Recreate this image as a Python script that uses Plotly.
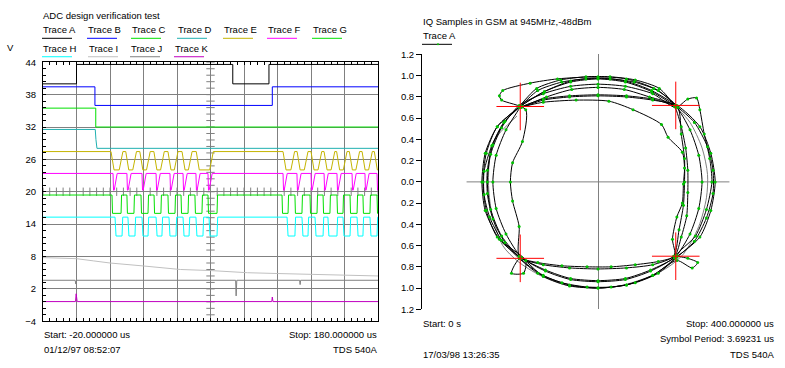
import numpy as np
import plotly.graph_objects as go

W, H = 785, 368
FONT = "Liberation Sans, Arial, sans-serif"
FS = 9.5

# ---------------- left panel: ADC traces (time in us, volts) ----------------
t_start, t_stop = -20.0, 180.0

a_t = [-20.0, 0.0, 93.3, 114.9, 180.0]
a_v = [40.0, 43.6, 40.0, 43.6, 43.6]
b_t = [-20.0, 11.0, 116.9, 180.0]
b_v = [39.45, 36.0, 39.45, 39.45]
c_t = [-20.0, 11.5, 180.0]
c_v = [35.5, 32.0, 32.0]
d_t = [-20.0, 11.2, 11.6, 12.2, 180.0]
d_v = [31.55, 31.55, 29.7, 28.05, 28.05]

e_levels = (27.45, 24.05)
e_lows = [(20.6, 25.5), (29.4, 33.6), (37.8, 41.8), (46.2, 50.2), (54.6, 58.4),
          (63.0, 66.8), (71.5, 79.5),
          (123.3, 128.0), (131.7, 136.0), (140.0, 144.2), (147.8, 152.0),
          (155.3, 159.3), (162.9, 166.8), (170.5, 174.4), (177.8, 181.0)]
f_levels = (23.4, 20.3)
f_lows = [(21.8, 22.5), (30.1, 30.8), (39.1, 39.8), (47.5, 48.2), (55.8, 56.5),
          (63.6, 64.3), (71.3, 72.0), (78.5, 79.2),
          (123.3, 124.0), (131.6, 132.3), (140.0, 140.7), (147.8, 148.5),
          (155.5, 156.2), (164.5, 165.2), (172.2, 172.9), (179.4, 181.0)]
g_levels = (19.4, 16.0)
g_lows = [(21.2, 26.6), (30.1, 34.3), (38.5, 42.7), (46.3, 50.4), (54.6, 58.8),
          (62.4, 66.6), (70.7, 74.9), (78.5, 83.9),
          (122.7, 126.3), (130.4, 134.6), (139.4, 143.6), (147.2, 151.3),
          (155.5, 159.1), (163.3, 167.5), (171.0, 175.2), (179.4, 181.0)]
h_levels = (15.3, 11.8)
h_lows = [(23.0, 27.2), (30.7, 34.9), (39.1, 42.7), (47.5, 51.0), (55.2, 59.4),
          (63.6, 67.2), (71.3, 75.5), (79.1, 83.9),
          (125.7, 130.4), (134.6, 138.2), (142.4, 147.2), (150.1, 155.5),
          (159.1, 163.3), (167.5, 171.0), (175.2, 179.4)]

i_t = [-20.0, 0.0, 10.0, 20.0, 40.0, 62.0, 80.0, 102.0, 120.0, 141.0, 160.0, 180.0]
i_v = [7.8, 7.6, 7.2, 6.8, 6.25, 5.6, 5.4, 5.0, 4.85, 4.7, 4.55, 4.4]
j_t = [-20.0, -0.8, -0.4, 0.1, 95.0, 95.3, 95.7, 133.2, 133.5, 133.8, 180.0]
j_v = [3.6, 3.6, 2.9, 3.6, 3.6, 0.7, 3.6, 3.6, 2.8, 3.6, 3.6]
k_t = [-20.0, -0.6, -0.2, 0.4, 116.6, 116.9, 117.3, 180.0]
k_v = [-0.35, -0.35, 1.1, -0.35, -0.35, 0.5, -0.35, -0.35]

trace_names = ["Trace A", "Trace B", "Trace C", "Trace D", "Trace E", "Trace F",
               "Trace G", "Trace H", "Trace I", "Trace J", "Trace K"]
trace_colors = ["#000000", "#0000ff", "#00e000", "#20b0b0", "#c4b400", "#ff00ff",
                "#00e000", "#00ffff", "#c0c0c0", "#808080", "#c000c0"]

y_ticks = [-4, 2, 8, 14, 20, 26, 32, 38, 44]

# ---------------- right panel: IQ trajectory ----------------
iq_i = [0.71,
        0.49, 0.25, 0, -0.25, -0.49, -0.71,
        -0.92, -1.02, -1.05, -1.02, -0.92, -0.71,
        -0.48, -0.25, 0, 0.25, 0.48, 0.71,
        0.93, 1.03, 1.07, 1.03, 0.93, 0.72,
        0.5, 0.26, 0, -0.26, -0.5, -0.70,
        -0.47, -0.24, 0, 0.24, 0.47, 0.70,
        0.84, 0.92, 0.95, 0.92, 0.84, 0.70,
        0.50, 0.26, 0, -0.26, -0.50, -0.72,
        -0.72, -0.78, -0.80, -0.78, -0.69, -0.66,
        -0.88, -0.90, -0.87, -0.62, -0.37, 0, 0.26, 0.51, 0.73,
        0.76, 0.79, 0.79, 0.78, 0.74, 0.69,
        0.50, 0.26, 0, -0.26, -0.50, -0.70,
        -0.88, -0.98, -1.01, -0.98, -0.88, -0.72,
        -0.5, -0.25, 0, 0.25, 0.5, 0.71,
        0.82, 0.90, 0.93,
        0.97, 1.02, 1.04, 0.99, 0.89, 0.72,
        0.82, 0.91, 0.86, 0.72,
        0.50, 0.26, 0, -0.26, -0.50, -0.71,
        -0.79, -0.68, -0.66,
        -0.90, -1.03, -1.06, -1.03, -0.92, -0.71,
        -0.49, -0.25, 0, 0.25, 0.49, 0.71,
        0.5, 0.26, 0, -0.26, -0.5, -0.69,
        -0.5, -0.2, 0.1, 0.32, 0.58, 0.64, 0.77, 0.79, 0.78, 0.77, 0.72, 0.68, 0.70,
        0.48, 0.25, 0, -0.25, -0.48, -0.70,
        -0.84, -0.93, -0.96, -0.93, -0.84, -0.71,
        -0.86, -0.97, -1.04, -1.04, -0.99, -0.88, -0.72,
        -0.55, -0.33, -0.10, 0.12, 0.34, 0.55, 0.72,
        0.88, 0.99, 1.05, 1.05, 1.00, 0.88, 0.71,
        0.55, 0.33, 0.11, -0.11, -0.33, -0.55, -0.72,
        -0.85, -0.96, -1.01, -1.01, -0.96, -0.85, -0.70,
        -0.55, -0.33, -0.10, 0.12, 0.34, 0.55, 0.70,
        0.76, 0.81, 0.82, 0.82, 0.80, 0.76, 0.70,
        0.56, 0.34, 0.11, -0.11, -0.34, -0.56, -0.71]
iq_q = [0.71,
        0.85, 0.94, 0.97, 0.94, 0.85, 0.71,
        0.52, 0.27, 0, -0.27, -0.52, -0.71,
        -0.83, -0.91, -0.93, -0.91, -0.83, -0.71,
        -0.52, -0.27, 0, 0.27, 0.52, 0.72,
        0.77, 0.80, 0.81, 0.80, 0.77, 0.70,
        0.80, 0.87, 0.89, 0.87, 0.80, 0.72,
        0.49, 0.25, 0, -0.25, -0.49, -0.72,
        -0.88, -0.97, -1.0, -0.97, -0.88, -0.70,
        -0.42, -0.18, 0, 0.18, 0.38, 0.68,
        0.77, 0.81, 0.86, 0.93, 0.97, 0.99, 0.97, 0.88, 0.70,
        0.45, 0.22, 0, -0.22, -0.45, -0.70,
        -0.78, -0.81, -0.82, -0.81, -0.78, -0.72,
        -0.51, -0.26, 0, 0.26, 0.51, 0.72,
        0.83, 0.90, 0.92, 0.90, 0.83, 0.70,
        0.78, 0.79, 0.68,
        0.45, 0.22, 0, -0.26, -0.51, -0.69,
        -0.72, -0.76, -0.81, -0.74,
        -0.88, -0.97, -1.0, -0.98, -0.89, -0.72,
        -0.86, -0.86, -0.74,
        -0.54, -0.27, 0, 0.27, 0.52, 0.71,
        0.85, 0.95, 0.98, 0.95, 0.86, 0.72,
        0.78, 0.81, 0.82, 0.81, 0.78, 0.71,
        0.75, 0.77, 0.76, 0.68, 0.54, 0.42, 0.28, 0.13, -0.02, -0.20, -0.33, -0.54, -0.70,
        -0.84, -0.92, -0.94, -0.92, -0.84, -0.71,
        -0.49, -0.25, 0, 0.25, 0.49, 0.71,
        0.56, 0.34, 0.10, -0.12, -0.33, -0.55, -0.72,
        -0.86, -0.95, -0.99, -0.99, -0.95, -0.86, -0.71,
        -0.56, -0.34, -0.11, 0.11, 0.33, 0.56, 0.72,
        0.86, 0.94, 0.97, 0.97, 0.94, 0.86, 0.70,
        0.57, 0.35, 0.11, -0.11, -0.35, -0.57, -0.72,
        -0.76, -0.79, -0.80, -0.80, -0.78, -0.75, -0.70,
        -0.52, -0.32, -0.10, 0.11, 0.32, 0.52, 0.71,
        0.88, 0.96, 0.99, 0.99, 0.96, 0.88, 0.72]

gray_i = [0.72, 0.84, 0.95, 1.0, 0.99, 0.92, 0.78, 0.63, 0.45, 0.2, 0, -0.3, -0.53,
          -0.73, -0.87, -0.97, -1.0, -0.96, -0.74]
gray_q = [0.70, 0.56, 0.32, 0.07, -0.15, -0.42, -0.68, -0.81, -0.9, -0.98, -1.0, -0.97,
          -0.88, -0.75, -0.6, -0.29, 0.0, 0.37, 0.62]

symbol_i = [-0.71, 0.71, -0.71, 0.71]
symbol_q = [0.71, 0.72, -0.72, -0.70]

iq_ticks = [-1.2, -1.0, -0.8, -0.6, -0.4, -0.2, 0.0, 0.2, 0.4, 0.6, 0.8, 1.0, 1.2]


def pulses(lows, hi, lo, fall, rise):
    t, v = [t_start], [hi]
    for a, b in lows:
        t += [a, a + fall]
        v += [hi, lo]
        if b >= t_stop:
            t.append(t_stop)
            v.append(lo)
            return t, v
        t += [b, b + rise]
        v += [lo, hi]
    t.append(t_stop)
    v.append(hi)
    return t, v


e_t, e_v = pulses(e_lows, *e_levels, 1.8, 2.2)
f_t, f_v = pulses(f_lows, *f_levels, 0.3, 1.8)
g_t, g_v = pulses(g_lows, *g_levels, 0.3, 0.3)
h_t, h_v = pulses(h_lows, *h_levels, 0.6, 0.4)

series = [(a_t, a_v, "hv"), (b_t, b_v, "hv"), (c_t, c_v, "hv"), (d_t, d_v, "linear"),
          (e_t, e_v, "linear"), (f_t, f_v, "linear"), (g_t, g_v, "linear"),
          (h_t, h_v, "linear"), (i_t, i_v, "linear"), (j_t, j_v, "linear"),
          (k_t, k_v, "linear")]

fig = go.Figure()

# centre-line cross ticks (graticule decoration)
ct = np.arange(t_start, t_stop + 0.01, 4.0)
fig.add_trace(go.Scatter(x=ct, y=[20] * len(ct), mode="markers", xaxis="x", yaxis="y",
                         marker=dict(symbol="line-ns-open", size=6, color="#808080",
                                     line=dict(color="#808080", width=1)),
                         hoverinfo="skip", showlegend=False))
cv = np.arange(-4, 44.01, 1.2)
fig.add_trace(go.Scatter(x=[80] * len(cv), y=cv, mode="markers", xaxis="x", yaxis="y",
                         marker=dict(symbol="line-ew-open", size=6, color="#808080",
                                     line=dict(color="#808080", width=1)),
                         hoverinfo="skip", showlegend=False))

for (tt, vv, shp), name, col in reversed(list(zip(series, trace_names, trace_colors))):
    fig.add_trace(go.Scatter(x=tt, y=vv, mode="lines", name=name, xaxis="x", yaxis="y",
                             line=dict(color=col, width=1, shape=shp), showlegend=False))

# IQ panel
fig.add_trace(go.Scatter(x=gray_i, y=gray_q, mode="lines", xaxis="x2", yaxis="y2",
                         line=dict(color="#808080", width=1, shape="spline", smoothing=0.8),
                         showlegend=False))
fig.add_trace(go.Scatter(x=iq_i, y=iq_q, mode="lines+markers", name="Trace A", xaxis="x2", yaxis="y2",
                         line=dict(color="black", width=1, shape="spline", smoothing=0.7),
                         marker=dict(color="#00c000", size=3, line=dict(width=0)),
                         showlegend=False))
fig.add_trace(go.Scatter(x=symbol_i, y=symbol_q, mode="markers", xaxis="x2", yaxis="y2",
                         marker=dict(symbol="cross-thin", size=34, color="red",
                                     line=dict(color="red", width=1)),
                         showlegend=False))


def px(x):
    return x / W


def py(y):
    return 1 - y / H


annotations = []


def ann(text, x, y, anchor="left"):
    annotations.append(dict(text=text, x=px(x), y=py(y), xref="paper", yref="paper",
                            xanchor=anchor, yanchor="middle", showarrow=False,
                            font=dict(family=FONT, size=FS, color="black")))


shapes = []

ann("ADC design verification test", 41, 9.5)
ann("V", 5, 42.5)
leg_pos = [(42, 24.5, 33.3), (87, 24.5, 33.3), (131, 24.5, 33.3), (177, 24.5, 33.3),
           (223, 24.5, 33.3), (267, 24.5, 33.3), (312, 24.5, 33.3),
           (42, 43.5, 52.3), (88, 43.5, 52.3), (130, 43.5, 52.3), (174, 43.5, 52.3)]
for (lx, ly, uy), name, col in zip(leg_pos, trace_names, trace_colors):
    ann(name, lx - 1, ly)
    shapes.append(dict(type="line", xref="paper", yref="paper", x0=px(lx), x1=px(lx + 30),
                       y0=py(uy), y1=py(uy), line=dict(color=col, width=1)))

ann("Start: -20.000000 us", 42, 338.8)
ann("Stop: 180.000000 us", 379, 338.8, "right")
ann("01/12/97 08:52:07", 42, 353.7)
ann("TDS 540A", 379, 353.7, "right")

ann("IQ Samples in GSM at 945MHz,-48dBm", 421, 15.5)
ann("Trace A", 421, 30)
shapes.append(dict(type="line", xref="paper", yref="paper", x0=px(422), x1=px(452),
                   y0=py(39.5), y1=py(39.5), line=dict(color="black", width=1)))
shapes.append(dict(type="circle", xref="paper", yref="paper", x0=px(437), x1=px(439),
                   y0=py(40.5), y1=py(38.5), fillcolor="#00c000", line=dict(width=0)))
ann("Start: 0 s", 421, 327)
ann("Stop: 400.000000 us", 776, 327, "right")
ann("Symbol Period: 3.69231 us", 776, 342.8, "right")
ann("17/03/98 13:26:35", 421, 358.8)
ann("TDS 540A", 776, 358.8, "right")

# horizontal centre line of IQ panel
shapes.append(dict(type="line", xref="x2", yref="y2", x0=-1.2, x1=1.2, y0=0, y1=0,
                   line=dict(color="#808080", width=1), layer="below"))

fig.update_layout(
    width=W, height=H, autosize=False,
    margin=dict(l=0, r=0, t=0, b=0),
    paper_bgcolor="white", plot_bgcolor="white",
    font=dict(family=FONT, size=FS, color="black"),
    showlegend=False,
    annotations=annotations, shapes=shapes,
    xaxis=dict(domain=[px(43), px(378)], range=[t_start, t_stop], tick0=-20, dtick=20,
               showgrid=True, gridcolor="#808080", gridwidth=1, zeroline=False,
               showticklabels=False, showline=True, linecolor="black", linewidth=1,
               mirror="allticks", ticks="inside", ticklen=3, tickcolor="black",
               minor=dict(ticks="inside", dtick=4, tick0=-20, ticklen=3, tickcolor="black",
                          showgrid=False),
               anchor="y", fixedrange=True),
    yaxis=dict(domain=[py(325), py(58)], range=[-4, 44], tickvals=y_ticks,
               showgrid=True, gridcolor="#808080", gridwidth=1, zeroline=False,
               showline=True, linecolor="black", linewidth=1, mirror=True,
               ticks="inside", ticklen=3, tickcolor="black", ticklabelstandoff=4,
               minor=dict(ticks="inside", dtick=1.2, tick0=-4, ticklen=3, tickcolor="black",
                          showgrid=False),
               tickfont=dict(family=FONT, size=FS, color="black"),
               anchor="x", fixedrange=True),
    xaxis2=dict(domain=[px(422), px(774)], range=[-1.607, 1.607], showgrid=False,
                zeroline=True, zerolinecolor="#808080", zerolinewidth=1,
                showticklabels=False, showline=False, ticks="", anchor="y2", fixedrange=True),
    yaxis2=dict(domain=[py(312.7), py(49.9)], range=[-1.2005, 1.2005], showgrid=False,
                zeroline=False, tickvals=iq_ticks,
                ticktext=["%.1f" % abs(v) for v in iq_ticks],
                ticks="outside", ticklen=5, tickcolor="black",
                showline=True, linecolor="black", linewidth=1,
                tickfont=dict(family=FONT, size=FS, color="black"),
                anchor="x2", fixedrange=True),
)

fig.write_html("out.html", config={"displayModeBar": False},
               post_script="document.body.style.margin='0';document.body.style.padding='0';")
